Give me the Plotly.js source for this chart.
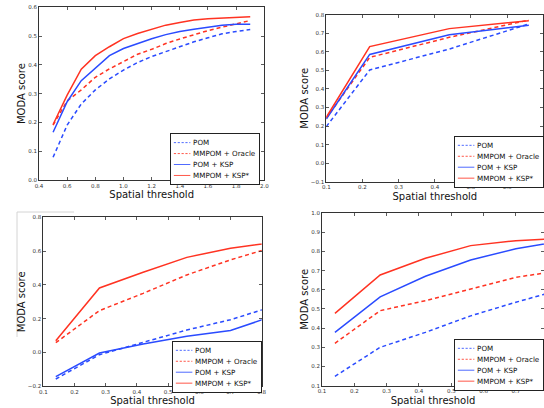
<!DOCTYPE html>
<html><head><meta charset="utf-8">
<script src="https://cdn.plot.ly/plotly-3.0.1.min.js"></script>
<style>html,body{margin:0;padding:0;overflow:hidden;background:#fff}</style>
</head><body><div id="plot"></div>
<script>
// ---- data ----
const seriesNames = ["POM", "MMPOM + Oracle", "POM + KSP", "MMPOM + KSP*"];

const x1 = [0.5,0.6,0.7,0.8,0.9,1.0,1.1,1.2,1.3,1.4,1.5,1.6,1.7,1.8,1.9];
const pom1     = [0.079,0.191,0.264,0.313,0.351,0.382,0.408,0.429,0.446,0.463,0.480,0.494,0.508,0.516,0.523];
const oracle1  = [0.191,0.275,0.313,0.357,0.386,0.411,0.437,0.454,0.474,0.490,0.505,0.519,0.531,0.542,0.554];
const ksp1     = [0.166,0.272,0.345,0.390,0.432,0.457,0.475,0.491,0.505,0.516,0.524,0.531,0.538,0.541,0.541];
const kspstar1 = [0.193,0.295,0.385,0.432,0.463,0.491,0.509,0.524,0.538,0.547,0.556,0.560,0.563,0.564,0.567];

const x2 = [0.1,0.22,0.44,0.66];
const pom2     = [0.197,0.502,0.615,0.750];
const oracle2  = [0.242,0.570,0.678,0.771];
const ksp2     = [0.238,0.586,0.692,0.743];
const kspstar2 = [0.247,0.628,0.725,0.768];

const x3 = [0.14,0.28,0.42,0.56,0.70,0.84];
const pom3     = [-0.157,-0.013,0.060,0.133,0.194,0.275];
const oracle3  = [0.058,0.248,0.350,0.459,0.548,0.625];
const ksp3     = [-0.143,-0.003,0.050,0.096,0.130,0.218];
const kspstar3 = [0.070,0.382,0.475,0.563,0.617,0.652];

const x4 = [0.14,0.28,0.42,0.56,0.70,0.84];
const pom4     = [0.149,0.300,0.378,0.464,0.535,0.601];
const oracle4  = [0.321,0.491,0.543,0.604,0.665,0.700];
const ksp4     = [0.378,0.563,0.670,0.755,0.814,0.853];
const kspstar4 = [0.477,0.677,0.764,0.830,0.856,0.868];

// ---- styling ----
const W = 544, H = 408;
const BLUE = '#2a4bff', RED = '#ff3322';
const styles = [
  {color: BLUE, dash: '4px,3px'},
  {color: RED,  dash: '4px,3px'},
  {color: BLUE, dash: 'solid'},
  {color: RED,  dash: 'solid'}
];
const panels = [
  {x: x1, ys: [pom1, oracle1, ksp1, kspstar1]},
  {x: x2, ys: [pom2, oracle2, ksp2, kspstar2]},
  {x: x3, ys: [pom3, oracle3, ksp3, kspstar3]},
  {x: x4, ys: [pom4, oracle4, ksp4, kspstar4]}
];

const traces = [];
panels.forEach((p, i) => {
  const sfx = i === 0 ? '' : String(i + 1);
  p.ys.forEach((y, k) => {
    traces.push({
      type: 'scatter', mode: 'lines', x: p.x, y: y, name: seriesNames[k],
      xaxis: 'x' + sfx, yaxis: 'y' + sfx,
      legend: 'legend' + sfx,
      line: {color: styles[k].color, dash: styles[k].dash, width: 1.5},
      hoverinfo: 'skip'
    });
  });
});

const px = v => Math.min(1, v / W), py = v => 1 - v / H;
const tickFont = {family: 'DejaVu Sans', size: 5.5, color: '#333'};
const titleFont = {family: 'DejaVu Sans', size: 10, color: '#111'};
function ax(domain, range, dtick, title, anchor, standoff) {
  return {
    domain: domain, range: range, dtick: dtick, tick0: 0, tickformat: '.1f',
    showgrid: false, zeroline: false, showline: true, mirror: 'ticks',
    linecolor: '#333', linewidth: 1, ticks: 'inside', ticklen: 3, tickwidth: 0.8, tickcolor: '#333',
    tickfont: tickFont, title: {text: title, font: titleFont, standoff: standoff},
    anchor: anchor, automargin: false
  };
}
function leg(xp, yp) {
  return {
    x: px(xp), y: py(yp), xanchor: 'left', yanchor: 'top', xref: 'paper', yref: 'paper',
    bgcolor: '#fff', bordercolor: '#222', borderwidth: 2,
    font: {family: 'DejaVu Sans', size: 13, color: '#111'},
    itemwidth: 30, tracegroupgap: 0, traceorder: 'normal'
  };
}

const layout = {
  width: W, height: H, margin: {l: 0, r: 0, t: 0, b: 0, pad: 0, autoexpand: false},
  paper_bgcolor: '#fff', plot_bgcolor: '#fff', showlegend: true,
  xaxis:  ax([px(39), px(264.3)], [0.4, 2.0], 0.2, 'Spatial threshold', 'y', 3),
  yaxis:  ax([py(180), py(7.3)], [0.0, 0.6], 0.1, 'MODA score', 'x', 0),
  xaxis2: ax([px(326.3), px(543.3)], [0.1, 0.7], 0.1, 'Spatial threshold', 'y2', 3),
  yaxis2: ax([py(181.7), py(14.7)], [-0.1, 0.8], 0.1, 'MODA score', 'x2', 0),
  xaxis3: ax([px(43.3), px(261.7)], [0.1, 0.8], 0.1, 'Spatial threshold', 'y3', 3),
  yaxis3: ax([py(386.3), py(217.3)], [-0.2, 0.8], 0.2, 'MODA score', 'x3', 0),
  xaxis4: ax([px(322), px(544)], [0.1, 0.787], 0.1, 'Spatial threshold', 'y4', 3),
  yaxis4: ax([py(385.7), py(213)], [0.1, 1.0], 0.1, 'MODA score', 'x4', 0),
  legend:  leg(170, 133.3),
  legend2: leg(454, 136),
  legend3: leg(172, 341),
  legend4: leg(454, 339),
  shapes: [
    {type: 'line', xref: 'paper', yref: 'paper', x0: px(17), x1: px(17), y0: py(212), y1: py(337), line: {color: '#d4d4d4', width: 1}},
    {type: 'line', xref: 'paper', yref: 'paper', x0: px(17), x1: px(74), y0: py(212), y1: py(212), line: {color: '#d4d4d4', width: 1}}
  ]
};

const gd = document.getElementById('plot');
function shrinkLegends() {
  gd.querySelectorAll('.infolayer > g').forEach(g => {
    const c = g.getAttribute('class') || '';
    if (/^legend\d*$/.test(c)) {
      let t = (g.getAttribute('transform') || '').replace(/\s*scale\([^)]*\)/, '');
      g.setAttribute('transform', t + ' scale(0.55)');
    }
  });
}
Plotly.newPlot(gd, traces, layout, {staticPlot: true, displayModeBar: false}).then(() => {
  shrinkLegends();
  gd.on('plotly_afterplot', shrinkLegends);
});
</script>
</body></html>
